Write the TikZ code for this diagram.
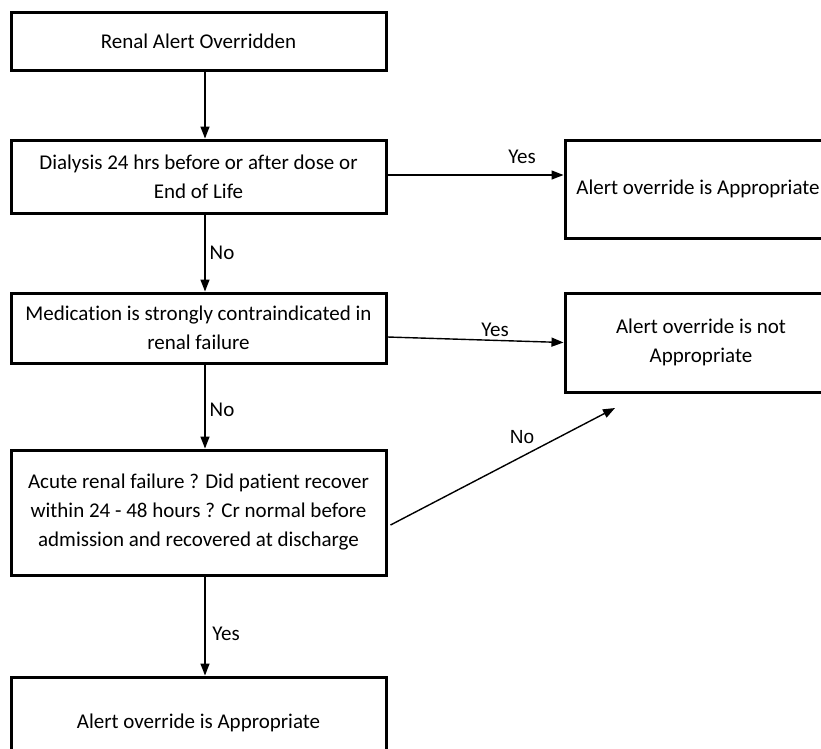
\documentclass[tikz,border=0pt]{standalone}
\usepackage{fontspec}
\setmainfont{Carlito}[Ligatures=NoCommon]
\newfontfamily\arialfont{Liberation Sans}
\usetikzlibrary{arrows.meta}
\begin{document}
\begin{tikzpicture}[x=1pt,y=-1pt,
  every node/.style={font=\fontsize{21}{29}\selectfont},
  box/.style={draw, line width=3pt, align=center, inner sep=0pt},
  conn/.style={line width=1.4pt, -{Triangle[length=12pt,width=9pt]}},
  lbl/.style={inner sep=0pt}]
\useasboundingbox (0,0) rectangle (821,748);
\clip (0,0) rectangle (821,748);
\fill[white] (0,0) rectangle (821,748);
\node[box, minimum width=375pt, minimum height=58pt] (b1) at (198.5,41) {Renal Alert Overridden};
\node[box, minimum width=375pt, minimum height=73pt] (b2) at (198.5,176.5) {Dialysis 24 hrs before or after dose or\\End of Life};
\node[box, minimum width=375pt, minimum height=70pt] (b3) at (198.5,328) {Medication is strongly contraindicated in\\renal failure};
\node[box, minimum width=375pt, minimum height=125pt] (b4) at (198.5,512.5) {Acute renal failure ? Did patient recover\\within 24 - 48 hours ? Cr normal before\\admission and recovered at discharge};
\node[box, minimum width=375pt, minimum height=92pt] (b5) at (198.5,723) {Alert override is Appropriate};
\node[box, minimum width=266pt, minimum height=98pt] (r1) at (698,189) {Alert override is Appropriate};
\node[box, minimum width=272pt, minimum height=99pt] (r2) at (701,342.5) {Alert override is not\\Appropriate};
\coordinate (ne) at (615,408);
\draw[conn] ([xshift=6.5pt]b1.south) -- ([xshift=6.5pt]b2.north);
\draw[conn] ([xshift=6.5pt]b2.south) -- ([xshift=6.5pt]b3.north);
\draw[conn] ([xshift=6.5pt]b3.south) -- ([xshift=6.5pt]b4.north);
\draw[conn] ([xshift=6.5pt]b4.south) -- ([xshift=6.5pt]b5.north);
\draw[conn] ([yshift=1.5pt]b2.east) -- ([yshift=1.5pt]b2.east -| r1.west);
\draw[conn] ([yshift=-9pt]b3.east) -- (r2.west);
\draw[conn] ([xshift=3pt,yshift=-12.5pt]b4.east) -- (ne);
\node[lbl] at (522,157) {Yes};
\node[lbl] at (495,330) {Yes};
\node[lbl] at (222,253) {No};
\node[lbl] at (222,410) {No};
\node[lbl] at (226,634) {Yes};
\node[lbl, font=\arialfont\fontsize{19}{23}\selectfont] at (522,437) {No};
\end{tikzpicture}
\end{document}
